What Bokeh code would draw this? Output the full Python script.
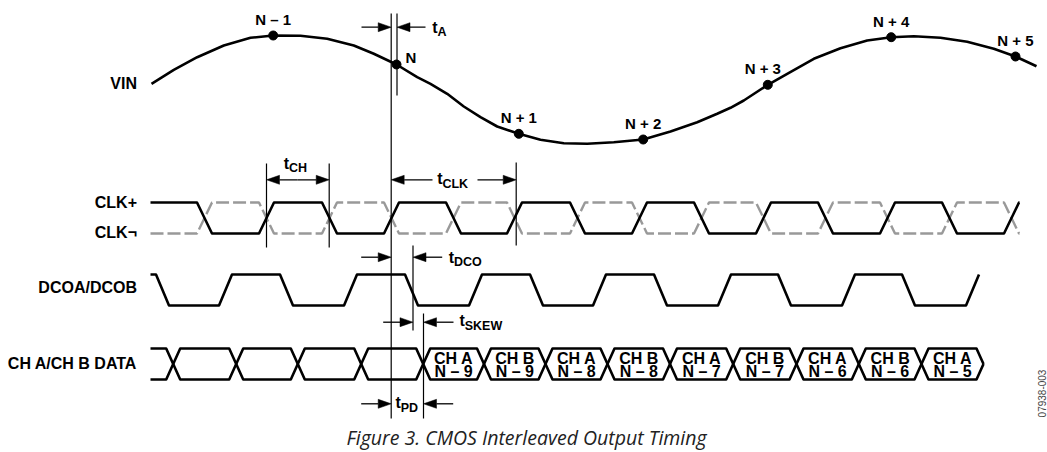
import numpy as np
from bokeh.plotting import figure
from bokeh.models import Range1d
from bokeh.core.properties import value
from bokeh.embed import file_html
from bokeh.resources import INLINE

# ---------------- data (time axis in diagram units, level axis downward) ----
vin_t = [151, 173.3, 196.7, 223.3, 250, 272.7, 300, 326.7, 353.3, 373.3, 396,
         416.7, 430, 446.7, 463.3, 480, 496.7, 518.3, 540, 563.3, 586.7, 613.3,
         642.7, 670, 696.7, 716.7, 730, 743.3, 767.3, 786.7, 813.3, 840, 866.7,
         890.7, 913.3, 940, 966.7, 993.3, 1015, 1036]
vin_v = [83.3, 69.3, 56.7, 45, 37.3, 35, 35.3, 38.3, 45, 53.3, 64,
         76.7, 83.3, 93.3, 106, 116.7, 126, 133.3, 139.3, 142.7, 143.3, 141.7,
         139, 131, 121.7, 113.3, 107.3, 100, 84.3, 73.3, 58.3, 47.7, 40,
         36.7, 35.7, 37.3, 41.3, 48.3, 56, 65.7]

sample_t = [272.7, 396, 518.3, 642.7, 767.3, 890.7, 1015]
sample_v = [35, 64, 133.3, 139, 84.3, 36.7, 56]
sample_labels = ["N – 1", "N", "N + 1", "N + 2", "N + 3", "N + 4", "N + 5"]

clk_rise = [266, 391, 514, 639, 763, 887, 1011]
clk_fall = [204, 329, 453, 577, 701, 825, 949]
dco_rise = [225, 350, 475, 599, 724, 848, 972]
dco_fall = [162, 286, 411, 536, 660, 784, 908]
data_cross = [172.7, 235.7, 297.3, 360.7, 422.7, 483.5, 545, 607, 669.5,
              732.7, 796, 858.3, 921]
data_end = 983
cell_top = ["CH A", "CH B", "CH A", "CH B", "CH A", "CH B", "CH A", "CH B", "CH A"]
cell_bot = ["N – 9", "N – 9", "N – 8", "N – 8", "N – 7", "N – 7", "N – 6", "N – 6", "N – 5"]

signal_names = ["VIN", "CLK+", "CLK¬", "DCOA/DCOB", "CH A/CH B DATA"]

# ---------------- layout constants ----------------
T0 = 150
CLK_HI, CLK_LO = 202, 233
DCO_HI, DCO_LO = 274, 305
DAT_HI, DAT_LO = 348, 379
label_y = [82.7, 202.3, 231.7, 287, 363.3]

FONT = value("Liberation Sans")


def square_wave(rises, falls, start_high, t_end, hi, lo, w):
    edges = sorted([(t, "r") for t in rises] + [(t, "f") for t in falls])
    xs, ys = [T0], [hi if start_high else lo]
    for t, k in edges:
        a, b = t - w / 2, t + w / 2
        if k == "r":
            xs += [a, b]; ys += [lo, hi]
        else:
            xs += [a, b]; ys += [hi, lo]
    if t_end > xs[-1]:
        xs.append(t_end); ys.append(ys[-1])
    return xs, ys


p = figure(width=1047, height=452, output_backend="svg", toolbar_location=None,
           x_range=Range1d(0, 1047), y_range=Range1d(452, 0),
           x_axis_location=None, y_axis_location=None, min_border=0)
p.grid.visible = False
p.outline_line_color = None
p.background_fill_color = "white"

# VIN
p.line(vin_t, vin_v, line_color="black", line_width=2.6, line_join="round")
p.scatter(sample_t, sample_v, size=9, color="black")
lab_x = [t for t in sample_t]
lab_y = [v - 16 for v in sample_v]
lab_x[1] = sample_t[1] + 9; lab_y[1] = sample_v[1] - 7
lab_x[4] = sample_t[4] - 5
aligns = ["center", "left", "center", "center", "center", "center", "center"]
p.text(lab_x, lab_y, text=sample_labels, text_align=aligns, text_baseline="middle",
       text_font=FONT, text_font_style="bold", text_font_size="15px", text_color="black")

# CLK
x, y = square_wave(clk_rise, clk_fall, True, 1019, CLK_HI, CLK_LO, 15)
xm, ym = square_wave(clk_fall, clk_rise, False, 1019, CLK_HI, CLK_LO, 15)
p.line(xm, ym, line_color="#999999", line_width=2.4, line_dash="13 4")
p.line(x, y, line_color="black", line_width=2.6, line_join="round")

# DCO
x, y = square_wave(dco_rise, dco_fall, True, 978, DCO_HI, DCO_LO, 13)
p.line(x, y, line_color="black", line_width=2.6, line_join="round")

# DATA bus
hw = 7
ax, ay = [T0], [DAT_HI]
bx, by = [T0], [DAT_LO]
state = True
for c in data_cross:
    ax += [c - hw, c + hw]; bx += [c - hw, c + hw]
    if state:
        ay += [DAT_HI, DAT_LO]; by += [DAT_LO, DAT_HI]
    else:
        ay += [DAT_LO, DAT_HI]; by += [DAT_HI, DAT_LO]
    state = not state
mid = (DAT_HI + DAT_LO) / 2
ax += [data_end - hw, data_end]; ay += [ay[-1], mid]
bx += [data_end - hw, data_end]; by += [by[-1], mid]
p.line(ax, ay, line_color="black", line_width=2.6, line_join="round")
p.line(bx, by, line_color="black", line_width=2.6, line_join="round")

cells_x = [(a + b) / 2 for a, b in zip(data_cross[4:], data_cross[5:] + [data_end])]
p.text(cells_x, [DAT_HI + 9.5] * len(cells_x), text=cell_top, text_align="center",
       text_baseline="middle", text_font=FONT, text_font_style="bold",
       text_font_size="16px", text_color="black")
p.text(cells_x, [DAT_HI + 23] * len(cells_x), text=cell_bot, text_align="center",
       text_baseline="middle", text_font=FONT, text_font_style="bold",
       text_font_size="16px", text_color="black")

# signal names
p.text([136.5] * 5, label_y, text=signal_names, text_align="right", text_baseline="middle",
       text_font=FONT, text_font_style="bold", text_font_size="16px", text_color="black")

# reference lines
vx = [390.7, 396.5, 266, 328.7, 515.7, 412.5, 423]
vy0 = [13, 13, 163, 163, 162, 245, 313]
vy1 = [418, 95, 247, 247, 245, 330, 418]
p.segment(vx, vy0, vx, vy1, line_color="black", line_width=1.2)

# arrows: (y, tail, tip)
arrows = [(26.7, 361, 390.7), (26.7, 425, 396.5),
          (179.3, 297, 266), (179.3, 297, 328.7),
          (179.3, 432, 390.7), (179.3, 477, 515.7),
          (256.7, 360.7, 390.7), (256.7, 441.7, 412.5),
          (321.7, 382.7, 412.5), (321.7, 453, 423),
          (403.3, 360.7, 390.7), (403.3, 452.7, 423)]
HL, HW = 13, 4.5
sx0, sy0, sx1, sy1, px, py = [], [], [], [], [], []
for yy, tail, tip in arrows:
    d = 1 if tip > tail else -1
    sx0.append(tail); sx1.append(tip - d * HL); sy0.append(yy); sy1.append(yy)
    px.append([tip, tip - d * HL, tip - d * HL]); py.append([yy, yy - HW, yy + HW])
p.segment(sx0, sy0, sx1, sy1, line_color="black", line_width=1.3)
p.patches(px, py, fill_color="black", line_color="black", line_width=0.5)

# timing labels with subscripts
tl_x = [431.7, 283.3, 436.7, 448.3, 459, 395]
tl_y = [26.7, 162.5, 178, 256.7, 320, 402]
subs = ["A", "CH", "CLK", "DCO", "SKEW", "PD"]
p.text(tl_x, tl_y, text=["t"] * 6, text_align="left", text_baseline="middle",
       text_font=FONT, text_font_style="bold", text_font_size="16px", text_color="black")
p.text([x_ + 5.2 for x_ in tl_x], [y_ + 5 for y_ in tl_y], text=subs, text_align="left",
       text_baseline="middle", text_font=FONT, text_font_style="bold",
       text_font_size="12.5px", text_color="black")

# caption and figure code
p.text([526], [436.5], text=["Figure 3. CMOS Interleaved Output Timing"], text_align="center",
       text_baseline="middle", text_font=value("Open Sans"), text_font_style="italic",
       text_font_size="19.5px", text_color="#222222")
p.text([1041.5], [393], text=["07938-003"], angle=np.pi / 2, text_align="center",
       text_baseline="middle", text_font=FONT, text_font_size="10px", text_color="#444444")

open("out.html", "w").write(file_html(p, INLINE))
